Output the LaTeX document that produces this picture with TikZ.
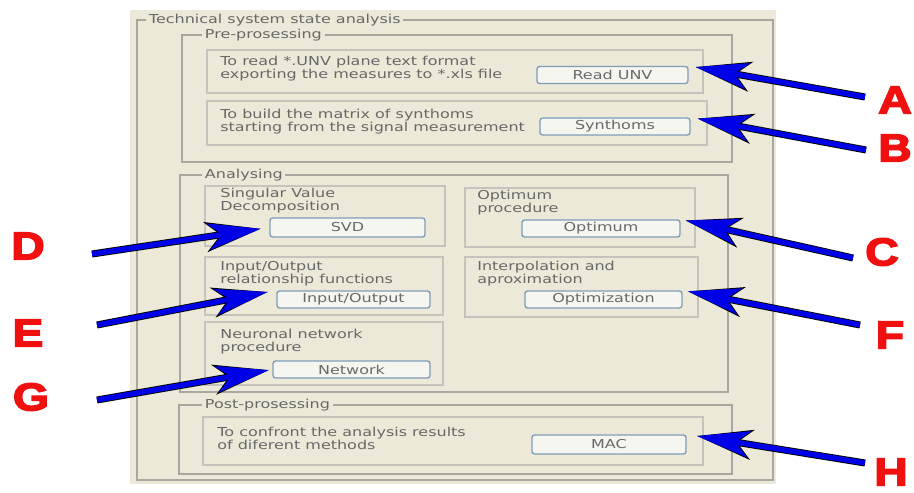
\documentclass[tikz,border=0pt]{standalone}
\usepackage{fontspec}
\setmainfont{DejaVu Sans}
\newfontfamily\panelfont[FakeStretch=1.3]{DejaVu Sans}
\newfontfamily\markfont[FakeBold=4,FakeStretch=1.2]{Liberation Sans Bold}
\usepackage{tikz}
\usetikzlibrary{arrows.meta, positioning, calc}
\usepackage{xcolor}
\definecolor{winbg}{HTML}{ECE9D8}
\definecolor{groupgray}{HTML}{A8A8A0}
\definecolor{panelgray}{HTML}{C4C4BC}
\definecolor{textgray}{HTML}{686868}
\definecolor{btnborder}{HTML}{7F9DB9}
\definecolor{btnfill}{HTML}{F6F6F1}
\definecolor{arrowblue}{HTML}{0000E6}
\definecolor{markred}{HTML}{F01010}

\begin{document}
\begin{tikzpicture}[x=0.02cm, y=-0.02cm,
    frame/.style={draw=groupgray, line width=0.6pt},
    panel/.style={draw=panelgray, line width=0.7pt},
    title/.style={anchor=west, fill=winbg, inner sep=1.5pt, font=\panelfont\fontsize{7}{8}\selectfont, text=textgray},
    txt/.style={anchor=west, align=left, inner sep=0pt, font=\panelfont\fontsize{7}{7.4}\selectfont, text=textgray},
    btn/.style={draw=btnborder, fill=btnfill, rounded corners=1.5pt, line width=0.8pt, minimum height=0.34cm, inner sep=0pt, font=\panelfont\fontsize{7}{8}\selectfont, text=textgray},
    letter/.style={font=\markfont\fontsize{22}{22}\selectfont, text=markred, inner sep=0pt},
    callout/.style={line width=3pt, draw=arrowblue, -{Stealth[length=30pt, width=15pt, inset=8pt]},
        preaction={draw=black, line width=4pt, -{Stealth[length=31.5pt, width=17pt, inset=8.5pt]}}}
]
\useasboundingbox (0,0) rectangle (914,493);

% window and group boxes
\fill[winbg] (130,10) rectangle (776,484);
\draw[frame] (137,20) rectangle (773,480);
\node[title] (tmain) at (146,20) {Technical system state analysis};
\draw[frame] (182,35) rectangle (732,162);
\node[title] (tpre) at (202,35) {Pre-prosessing};
\draw[frame] (180,175) rectangle (728,392);
\node[title] (tana) at (202,175) {Analysing};
\draw[frame] (179,405) rectangle (732,474);
\node[title] (tpost) at (202,405) {Post-prosessing};

% panels
\draw[panel] (207,50) rectangle (703,93);
\draw[panel] (207,101) rectangle (707,145);
\draw[panel] (205,186) rectangle (445,246);
\draw[panel] (205,257) rectangle (443,315);
\draw[panel] (205,322) rectangle (443,385);
\draw[panel] (465,188) rectangle (695,247);
\draw[panel] (465,257) rectangle (698,317);
\draw[panel] (203,417) rectangle (703,465);

% panel texts
\node[txt] (xa) at (220,68.5) {To read *.UNV plane text format\\exporting  the measures to *.xls file};
\node[txt] (xb) at (220,122) {To build the matrix of synthoms\\starting from the signal measurement};
\node[txt] (xsvd) at (220,201) {Singular Value\\Decomposition};
\node[txt] (xio) at (220,274) {Input/Output\\relationship functions};
\node[txt] (xnet) at (220,342) {Neuronal network\\procedure};
\node[txt] (xopt) at (477,203) {Optimum\\procedure};
\node[txt] (xint) at (477,274) {Interpolation and\\aproximation};
\node[txt] (xmac) at (217,438) {To confront the analysis results\\of diferent methods};

% buttons
\node[btn, minimum width=3.02cm] (rb) at (612.5,75) {Read UNV};
\node[btn, minimum width=3.0cm] (sb) at (615,126.5) {Synthoms};
\node[btn, minimum width=3.1cm, minimum height=0.38cm] (svd) at (347.5,227.5) {SVD};
\node[btn, minimum width=3.06cm] (io) at (353.5,299.5) {Input/Output};
\node[btn, minimum width=3.14cm] (net) at (351.5,369.5) {Network};
\node[btn, minimum width=3.16cm] (opt) at (601,228.5) {Optimum};
\node[btn, minimum width=3.14cm] (optz) at (603.5,299.5) {Optimization};
\node[btn, minimum width=3.08cm, minimum height=0.38cm] (mac) at (609,444.5) {MAC};

% letters
\node[letter] (A) at (895,100) {A};
\node[letter] (B) at (895,148) {B};
\node[letter] (C) at (882,252) {C};
\node[letter] (F) at (890,335) {F};
\node[letter] (H) at (891,472) {H};
\node[letter] (D) at (28,246) {D};
\node[letter] (E) at (28,333) {E};
\node[letter] (G) at (31,397) {G};

% arrow tails
\coordinate (tA) at (865,97);
\coordinate (tB) at (866,150);
\coordinate (tC) at (853,258);
\coordinate (tF) at (860,325);
\coordinate (tH) at (865,463);
\coordinate (tD) at (92,254);
\coordinate (tE) at (97,325);
\coordinate (tG) at (97,400);

\draw[callout, shorten >=4pt] (tA) -- (rb.north east);
\draw[callout, shorten >=4pt] (tB) -- (sb.north east);
\draw[callout, shorten >=3pt] (tC) -- (opt.north east);
\draw[callout, shorten >=3pt] (tF) -- (optz.north east);
\draw[callout, shorten >=6pt] (tH) -- (mac.north east);
\draw[callout, shorten >=5pt] (tD) -- (svd.west);
\draw[callout, shorten >=5pt] (tE) -- (io.north west);
\draw[callout, shorten >=2pt] (tG) -- (net.west);

\end{tikzpicture}
\end{document}
